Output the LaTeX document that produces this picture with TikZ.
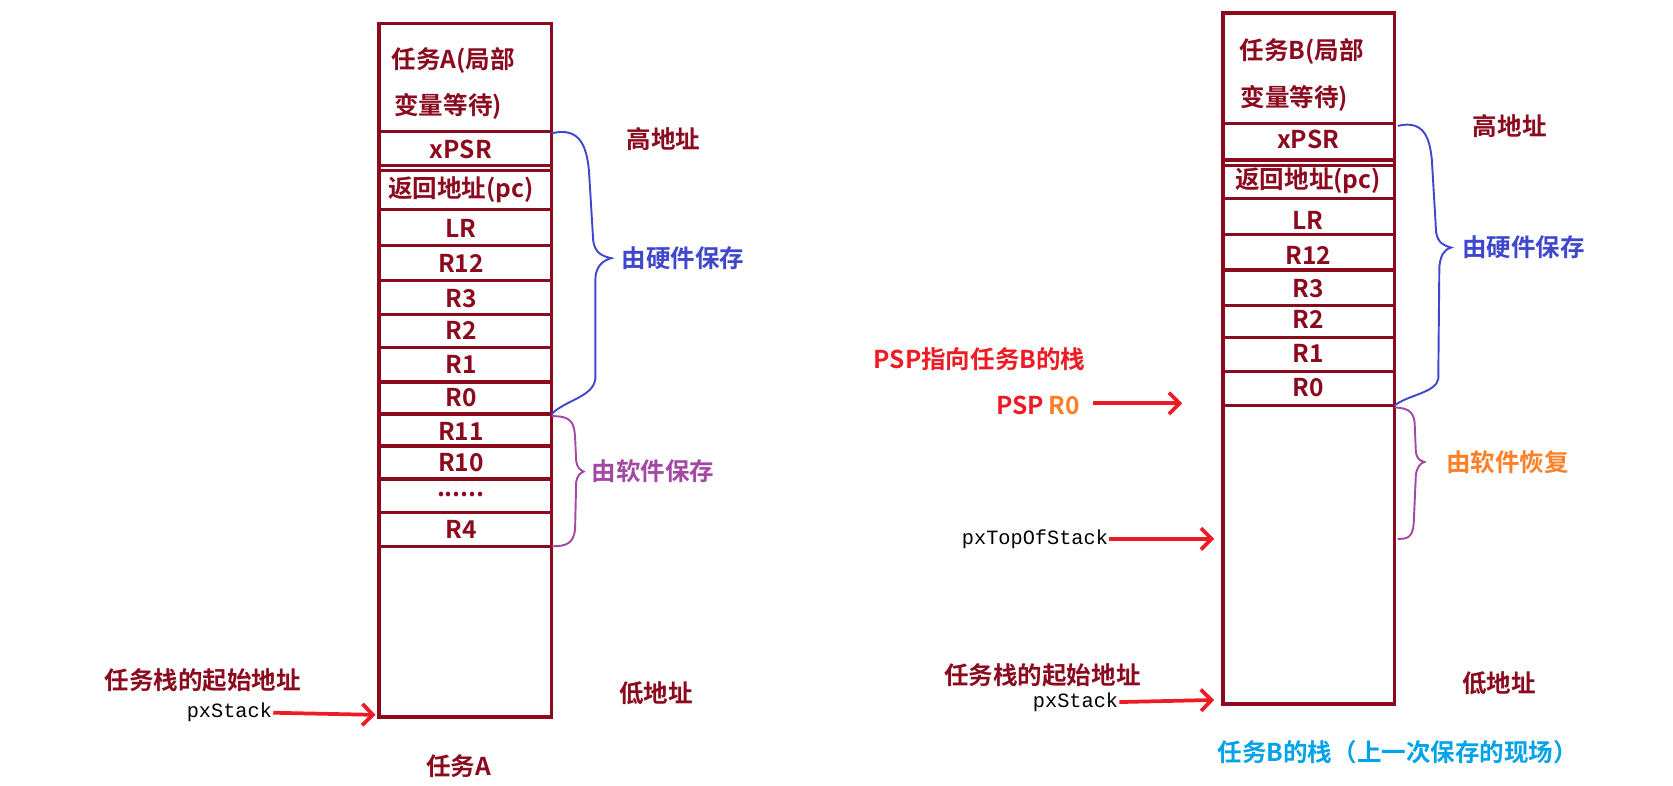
\documentclass[tikz,border=0pt]{standalone}
\usepackage{fontspec}
\setmainfont{Noto Sans CJK SC}[BoldFont={Noto Sans CJK SC Bold}]
\newfontfamily\mono{Liberation Mono}
\usetikzlibrary{arrows.meta}
\definecolor{dred}{HTML}{8B0A1E}
\definecolor{hblue}{HTML}{3F48CC}
\definecolor{hpurp}{HTML}{A349A4}
\definecolor{horange}{HTML}{FF7F27}
\definecolor{hred}{HTML}{ED1C24}
\definecolor{hcyan}{HTML}{00A2E8}
\begin{document}
\begin{tikzpicture}[x=1pt,y=-1pt,
 box/.style={draw=dred,line width=3.5pt},
 sep/.style={draw=dred,line width=3pt},
 lab/.style={text=dred,font=\bfseries\fontsize{23}{25}\selectfont},
 cjk/.style={font=\bfseries\fontsize{23}{25}\selectfont},
 px/.style={font=\mono\fontsize{19}{21}\selectfont},
 arr/.style={draw=hred,line width=3.5pt,-{Straight Barb[length=10pt,width=20pt,line width=3.5pt]}},
 brace/.style={line width=1.8pt}]
\useasboundingbox (0,0) rectangle (1568,736);
% ---------- left stack
\draw[box] (355,22) rectangle (517,672);
\foreach \y in {123,155,160,196,230,263,295,326,358,388,418,449,480,512}
  \draw[sep] (355,\y) -- (517,\y);
\node[lab] (a0) at (425,57) {任务A(局部};
\node[lab] (a0b) at (420,100) {变量等待)};
\foreach \t/\y/\n in {xPSR/140/a1,返回地址(pc)/178/a2,LR/214/a3,R12/247/a4,R3/280/a5,R2/310/a6,R1/342/a7,R0/373/a8,R11/404/a9,R10/434/a10,{......}/463/a11,R4/496/a12}
  \node[lab] (\n) at (432,\y) {\t};
\node[lab] (ah) at (622,130) {高地址};
\node[lab] (al) at (615,650) {低地址};
\draw[brace,hblue] (517,125) .. controls (545,118) and (550,140) .. (552,160) -- (556,226) .. controls (558,238) and (565,240) .. (573,242)
  .. controls (565,244) and (558,250) .. (558,262) -- (558,355) .. controls (556,372) and (530,375) .. (517,388);
\node[cjk,text=hblue] (ahw) at (640,242) {由硬件保存};
\draw[brace,hpurp] (517,390) .. controls (535,390) and (538,395) .. (539,410) -- (540,432) .. controls (541,438) and (543,440) .. (547,442)
  .. controls (543,444) and (541,446) .. (540,452) -- (539,495) .. controls (538,510) and (530,512) .. (517,512);
\node[cjk,text=hpurp] (asw) at (612,442) {由软件保存};
\node[lab] (astart) at (190,638) {任务栈的起始地址};
\node[px,inner sep=1pt] (apx) at (215,668) {pxStack};
\draw[arr] (apx.east) -- (352,670);
\node[lab] (aname) at (430,718) {任务A};
% ---------- right stack
\draw[box] (1146,12) rectangle (1307,660);
\foreach \y in {116,150,155,186,220,253,286,316,348,380}
  \draw[sep] (1146,\y) -- (1307,\y);
\node[lab] (b0) at (1220,48) {任务B(局部};
\node[lab] (b0b) at (1213,92) {变量等待)};
\foreach \t/\y/\n in {xPSR/131/b1,返回地址(pc)/169/b2,LR/207/b3,R12/239/b4,R3/270/b5,R2/299/b6,R1/331/b7,R0/363/b8}
  \node[lab] (\n) at (1226,\y) {\t};
\node[lab] (bh) at (1415,118) {高地址};
\node[lab] (bl) at (1405,640) {低地址};
\draw[brace,hblue] (1310,118) .. controls (1335,112) and (1340,130) .. (1342,150) -- (1346,218) .. controls (1348,228) and (1353,230) .. (1360,232)
  .. controls (1353,234) and (1350,240) .. (1349,250) -- (1348,355) .. controls (1346,368) and (1320,370) .. (1307,380);
\node[cjk,text=hblue] (bhw) at (1428,232) {由硬件保存};
\draw[brace,hpurp] (1307,382) .. controls (1322,382) and (1326,388) .. (1326,400) -- (1327,424) .. controls (1328,430) and (1331,432) .. (1335,433)
  .. controls (1331,434) and (1328,438) .. (1327,445) -- (1325,490) .. controls (1324,505) and (1318,505) .. (1310,505);
\node[cjk,text=horange] (bsw) at (1413,433) {由软件恢复};
\node[cjk,text=hred] (bpsp) at (918,337) {PSP指向任务B的栈};
\node[cjk,anchor=east,inner sep=0pt] (bpsp2) at (1012,380) {\textcolor{hred}{PSP}\,\textcolor{horange}{R0}};
\coordinate (bpt) at (1108,378);
\draw[arr] (bpsp2.east) ++(12,-2) -- (bpt);
\node[px,inner sep=1pt] (btop) at (970,505) {pxTopOfStack};
\draw[arr] (btop.east) -- (1138,505);
\node[lab] (bstart) at (977,633) {任务栈的起始地址};
\node[px,inner sep=1pt] (bpx) at (1008,658) {pxStack};
\draw[arr] (bpx.east) -- (1138,656);
\node[cjk,text=hcyan] (bname) at (1310,705) {任务B的栈（上一次保存的现场）};
\end{tikzpicture}
\end{document}
